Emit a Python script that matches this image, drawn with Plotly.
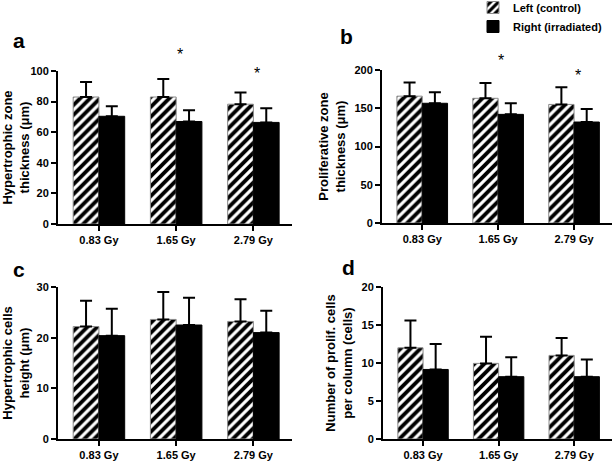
import plotly.graph_objects as go

doses = ["0.83 Gy", "1.65 Gy", "2.79 Gy"]
xpos = [0, 1, 2]

# panel a: hypertrophic zone thickness
a_left = [83, 83, 78.3]
a_left_err = [9.8, 11.7, 7.7]
a_right = [70.4, 67, 66.4]
a_right_err = [6.6, 7.3, 9.3]
a_star_x = [1.05, 2.05]
a_star_y = [110.5, 98.5]

# panel b: proliferative zone thickness
b_left = [165.8, 163, 155]
b_left_err = [18, 20, 22.5]
b_right = [156.5, 142, 132]
b_right_err = [14.5, 14.5, 17]
b_star_x = [1.04, 2.05]
b_star_y = [212, 193]

# panel c: hypertrophic cell height
c_left = [22.2, 23.6, 23.2]
c_left_err = [5.1, 5.4, 4.4]
c_right = [20.4, 22.5, 21.0]
c_right_err = [5.3, 5.4, 4.3]

# panel d: number of proliferative cells per column
d_left = [12.0, 9.95, 11.0]
d_left_err = [3.6, 3.5, 2.3]
d_right = [9.15, 8.2, 8.2]
d_right_err = [3.35, 2.55, 2.25]

W, H = 615, 463
FONT = "Liberation Sans, Arial, sans-serif"

panels = [
    dict(key="", left=a_left, le=a_left_err, right=a_right, re=a_right_err,
         stars=(a_star_x, a_star_y), x=(58, 292), y=(71, 224), rng=[0, 100], dtick=20,
         title="Hypertrophic zone<br>thickness (μm)", label="a", lab=(11, 41)),
    dict(key="2", left=b_left, le=b_left_err, right=b_right, re=b_right_err,
         stars=(b_star_x, b_star_y), x=(382, 612), y=(70, 223), rng=[0, 200], dtick=50,
         title="Proliferative zone<br>thickness (μm)", label="b", lab=(338, 36)),
    dict(key="3", left=c_left, le=c_left_err, right=c_right, re=c_right_err,
         stars=None, x=(58, 292), y=(287, 439), rng=[0, 30], dtick=10,
         title="Hypertrophic cells<br>height (μm)", label="c", lab=(11, 269)),
    dict(key="4", left=d_left, le=d_left_err, right=d_right, re=d_right_err,
         stars=None, x=(383, 612), y=(287, 439), rng=[0, 20], dtick=5,
         title="Number of prolif. cells<br>per column (cells)", label="d", lab=(340, 267)),
]

fig = go.Figure()
layout = {}
annotations = []
for i, p in enumerate(panels):
    k = p["key"]
    xa, ya = "x" + k, "y" + k
    first = i == 0
    fig.add_trace(go.Bar(
        x=xpos, y=p["left"], xaxis=xa, yaxis=ya, name="Left (control)",
        showlegend=first, offsetgroup="L",
        marker=dict(color="white", line=dict(color="#8a8a8a", width=1),
                    pattern=dict(shape="/", fgcolor="black", bgcolor="white",
                                 fgopacity=1, size=7, solidity=0.55)),
        error_y=dict(type="data", array=p["le"], arrayminus=[0, 0, 0], symmetric=False,
                     color="black", thickness=2, width=6),
    ))
    fig.add_trace(go.Bar(
        x=xpos, y=p["right"], xaxis=xa, yaxis=ya, name="Right (irradiated)",
        showlegend=first, offsetgroup="R",
        marker=dict(color="black", line=dict(color="black", width=1)),
        error_y=dict(type="data", array=p["re"], arrayminus=[0, 0, 0], symmetric=False,
                     color="black", thickness=2, width=6),
    ))
    x0, x1 = p["x"]
    y0, y1 = p["y"]
    ymax = p["rng"][1]
    px_per_unit = (y1 - y0) / (p["rng"][1] - p["rng"][0])
    if p["stars"]:
        sx, sy = p["stars"]
        for xs, ys in zip(sx, sy):
            annotations.append(dict(
                text="*", x=xs, y=min(ys, ymax), xref=xa, yref=ya,
                yshift=max(ys - ymax, 0) * px_per_unit, showarrow=False,
                font=dict(family=FONT, size=16, color="black")))
    xname = "xaxis" + k
    yname = "yaxis" + k
    layout[xname] = dict(
        domain=[x0 / W, x1 / W], anchor=ya, range=[-0.53, 2.5], automargin=False,
        tickvals=xpos, ticktext=doses, ticks="outside", ticklen=5, tickwidth=1.5,
        tickcolor="black", showline=True, linecolor="black", linewidth=2,
        showgrid=False, zeroline=False,
        tickfont=dict(family=FONT, size=11, color="black", weight="bold"))
    layout[yname] = dict(
        domain=[1 - y1 / H, 1 - y0 / H], anchor=xa, range=p["rng"], dtick=p["dtick"],
        automargin=False,
        ticks="outside", ticklen=5, tickwidth=1.5, tickcolor="black",
        showline=True, linecolor="black", linewidth=2, showgrid=False, zeroline=False,
        tickfont=dict(family=FONT, size=11, color="black", weight="bold"),
        title=dict(text=p["title"], standoff=6,
                   font=dict(family=FONT, size=13, color="black", weight="bold")))
    annotations.append(dict(
        text=p["label"], x=p["lab"][0] / W, y=1 - p["lab"][1] / H, xref="paper",
        yref="paper", showarrow=False, xanchor="left", yanchor="middle",
        font=dict(family=FONT, size=21, color="black", weight="bold")))

fig.update_layout(
    **layout,
    annotations=annotations,
    width=W, height=H, margin=dict(l=0, r=0, t=0, b=0, autoexpand=False),
    paper_bgcolor="white", plot_bgcolor="white",
    barmode="group", bargap=0.333, bargroupgap=0,
    showlegend=True,
    legend=dict(x=473 / W, y=1 + 7 / H, xanchor="left", yanchor="top",
                bgcolor="rgba(0,0,0,0)", tracegroupgap=0, itemwidth=30,
                font=dict(family=FONT, size=11, color="black", weight="bold")),
)

fig.write_html("out.html", config={"displayModeBar": False},
               post_script="document.body.style.margin='0px';document.body.style.overflow='hidden';")
